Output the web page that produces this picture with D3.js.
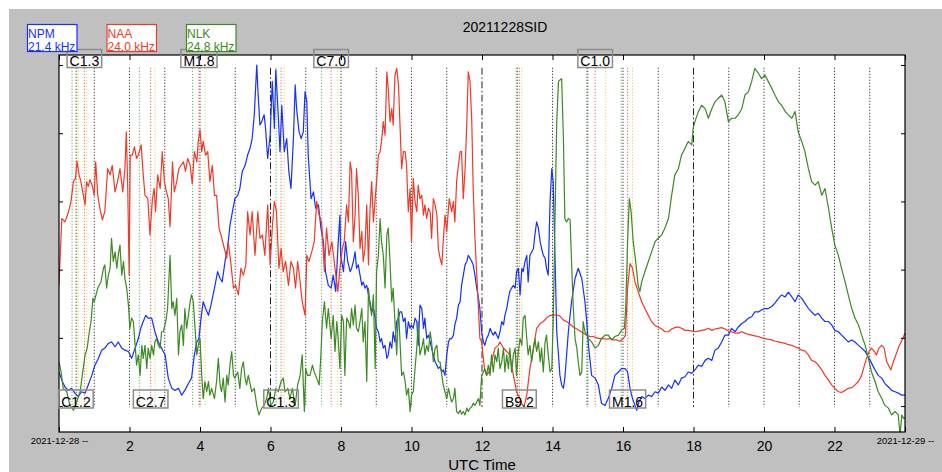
<!DOCTYPE html>
<html>
<head>
<meta charset="utf-8">
<script src="https://cdn.jsdelivr.net/npm/d3@7"></script>
<style>
  html, body { margin: 0; padding: 0; background: #fff; }
  svg { display: block; font-family: "Liberation Sans", Arial, Helvetica, sans-serif; }
</style>
</head>
<body>
<svg id="chart" width="942" height="472"></svg>
<script>
// hours UTC, relative amplitude (dB)
const npmSeries = [
  [0.00,5.0],[0.08,3.8],[0.17,2.8],[0.26,2.3],[0.36,2.6],[0.45,1.9],[0.55,1.4],[0.64,2.1],[0.74,1.9],[0.83,3.1],
  [0.93,4.5],[1.02,6.0],[1.12,7.0],[1.21,8.2],[1.30,8.5],[1.40,9.2],[1.49,9.4],[1.59,8.7],[1.68,9.4],[1.78,8.5],
  [1.87,8.2],[1.97,8.0],[2.06,7.0],[2.16,8.5],[2.25,9.9],[2.33,11.6],[2.39,12.4],[2.46,13.3],[2.53,12.9],[2.63,12.9],
  [2.72,10.9],[2.82,9.4],[2.91,8.5],[3.01,7.5],[3.05,6.0],[3.10,4.1],[3.20,2.6],[3.29,2.3],[3.39,2.6],[3.48,1.6],
  [3.57,2.3],[3.67,3.3],[3.76,4.1],[3.84,7.5],[3.91,9.4],[3.97,9.9],[4.03,12.9],[4.09,15.3],[4.16,14.3],[4.24,13.3],
  [4.31,14.8],[4.41,17.3],[4.50,19.7],[4.57,18.7],[4.63,18.2],[4.71,21.2],[4.78,23.1],[4.85,26.5],[4.92,28.5],[4.99,30.4],
  [5.07,30.9],[5.13,31.9],[5.20,34.4],[5.28,35.3],[5.35,36.8],[5.42,37.8],[5.48,39.2],[5.54,42.7],[5.61,50.0],[5.65,45.6],
  [5.70,41.2],[5.75,41.7],[5.82,42.7],[5.86,40.7],[5.92,36.3],[5.99,39.7],[6.05,47.6],[6.11,40.7],[6.15,49.3],[6.20,44.6],
  [6.27,37.3],[6.32,44.1],[6.39,37.3],[6.46,39.2],[6.52,34.4],[6.58,31.9],[6.65,39.2],[6.70,47.1],[6.74,43.6],[6.81,40.2],
  [6.87,39.2],[6.93,40.2],[6.98,46.1],[7.03,44.6],[7.07,36.8],[7.15,30.4],[7.22,31.4],[7.28,29.0],[7.36,29.5],[7.43,26.1],
  [7.50,24.1],[7.56,19.7],[7.64,17.7],[7.72,17.3],[7.78,19.2],[7.85,16.8],[7.91,23.1],[7.97,28.0],[7.99,22.1],[8.07,19.7],
  [8.13,24.1],[8.19,21.2],[8.26,19.7],[8.30,20.2],[8.35,21.2],[8.40,22.6],[8.44,20.2],[8.49,20.7],[8.54,19.2],[8.59,17.7],
  [8.63,18.2],[8.68,17.3],[8.73,17.7],[8.78,16.3],[8.82,15.3],[8.87,13.8],[8.92,14.3],[8.97,12.9],[9.01,11.4],[9.06,10.9],
  [9.11,9.4],[9.15,9.9],[9.20,8.5],[9.25,8.9],[9.30,7.0],[9.34,7.5],[9.39,9.4],[9.44,8.5],[9.48,10.9],[9.53,9.4],
  [9.58,12.4],[9.63,12.9],[9.67,13.8],[9.72,13.8],[9.77,12.4],[9.82,12.9],[9.86,9.9],[9.91,12.4],[9.96,11.4],[10.00,11.9],
  [10.05,11.4],[10.10,12.9],[10.15,12.4],[10.19,8.9],[10.24,14.8],[10.29,14.3],[10.34,11.4],[10.38,12.9],[10.43,9.9],[10.48,10.4],
  [10.53,9.4],[10.57,8.5],[10.62,7.5],[10.67,6.5],[10.72,6.0],[10.76,5.5],[10.81,5.8],[10.86,5.0],[10.90,5.3],[10.95,4.5],
  [11.00,7.5],[11.05,9.4],[11.09,9.9],[11.14,9.9],[11.19,10.4],[11.23,11.9],[11.28,12.9],[11.33,14.8],[11.38,15.3],[11.42,17.7],
  [11.47,19.2],[11.52,20.7],[11.57,21.2],[11.61,22.1],[11.66,21.7],[11.71,21.2],[11.75,20.7],[11.80,19.2],[11.85,17.3],[11.90,15.8],
  [11.94,14.3],[11.99,10.9],[12.04,9.4],[12.08,8.9],[12.13,9.9],[12.18,10.4],[12.23,11.4],[12.27,10.9],[12.32,10.4],[12.37,10.9],
  [12.42,10.4],[12.46,9.9],[12.51,10.9],[12.56,12.4],[12.61,11.9],[12.65,13.3],[12.70,14.3],[12.75,15.8],[12.79,16.8],[12.84,17.3],
  [12.89,17.7],[12.94,17.3],[12.98,19.7],[13.03,20.2],[13.08,16.3],[13.13,20.2],[13.17,19.7],[13.22,21.2],[13.27,22.1],[13.31,18.2],
  [13.36,22.1],[13.41,22.6],[13.46,23.1],[13.50,25.1],[13.55,27.0],[13.60,26.1],[13.65,24.1],[13.69,23.1],[13.74,22.1],[13.79,21.7],
  [13.83,20.2],[13.88,19.2],[13.93,30.0],[13.98,34.8],[14.02,32.9],[14.07,22.1],[14.12,10.9],[14.17,7.5],[14.21,4.5],[14.26,3.1],
  [14.31,2.6],[14.35,4.1],[14.40,7.5],[14.45,10.9],[14.54,15.3],[14.64,18.7],[14.73,20.2],[14.83,18.7],[14.92,15.3],[14.97,12.4],
  [15.02,8.9],[15.11,4.5],[15.21,4.1],[15.30,3.1],[15.39,0.4],[15.49,0.1],[15.58,1.1],[15.68,2.6],[15.77,4.5],[15.87,5.0],
  [15.96,5.5],[16.06,5.5],[16.13,5.0],[16.20,2.6],[16.27,1.1],[16.34,0.1],[16.39,-0.6],[16.45,0.6],[16.53,1.4],[16.62,1.1],
  [16.72,1.6],[16.81,1.4],[16.91,2.1],[17.00,1.9],[17.10,2.8],[17.19,2.3],[17.29,3.1],[17.38,2.6],[17.47,3.8],[17.57,3.1],
  [17.66,4.1],[17.76,4.3],[17.85,5.0],[17.95,4.8],[18.04,5.3],[18.14,6.0],[18.23,5.8],[18.33,6.7],[18.42,7.0],[18.52,6.7],
  [18.61,8.2],[18.70,8.5],[18.80,9.4],[18.89,10.4],[18.99,10.4],[19.08,11.4],[19.18,10.9],[19.27,11.6],[19.37,12.1],[19.46,12.4],
  [19.56,12.9],[19.65,13.1],[19.74,13.8],[19.84,13.8],[19.93,14.1],[20.03,14.3],[20.12,14.3],[20.22,14.6],[20.31,15.1],[20.41,15.8],
  [20.50,16.3],[20.60,16.0],[20.69,16.7],[20.79,16.0],[20.88,15.3],[20.97,16.3],[21.07,15.8],[21.16,15.1],[21.26,14.3],[21.35,13.8],
  [21.45,13.3],[21.54,13.6],[21.64,12.9],[21.73,12.4],[21.83,12.4],[21.92,11.9],[22.01,11.1],[22.11,10.9],[22.20,10.4],[22.30,9.9],
  [22.39,9.4],[22.49,9.7],[22.58,9.4],[22.68,8.9],[22.77,8.5],[22.87,8.0],[22.96,7.2],[23.05,6.3],[23.15,5.3],[23.24,4.5],
  [23.34,4.1],[23.43,3.3],[23.53,2.8],[23.62,2.3],[23.72,2.1],[23.81,1.9],[23.91,1.6],[24.00,1.6]
];

const naaSeries = [
  [0.00,17.7],[0.08,27.5],[0.17,27.0],[0.26,28.3],[0.34,30.0],[0.41,32.9],[0.47,33.4],[0.51,35.9],[0.57,33.9],[0.62,32.9],
  [0.69,30.9],[0.74,29.5],[0.78,32.9],[0.83,32.2],[0.88,33.2],[0.95,32.2],[1.00,30.9],[1.04,35.8],[1.10,30.9],[1.16,29.0],
  [1.23,27.3],[1.30,28.5],[1.38,34.8],[1.45,33.9],[1.51,35.3],[1.59,31.4],[1.66,32.9],[1.73,34.8],[1.81,31.4],[1.87,34.8],
  [1.91,40.2],[1.95,31.9],[1.99,19.2],[2.02,36.8],[2.08,36.8],[2.14,38.0],[2.20,36.3],[2.25,36.8],[2.33,38.3],[2.39,33.9],
  [2.44,30.9],[2.52,30.4],[2.58,25.1],[2.65,30.4],[2.70,31.9],[2.74,28.5],[2.80,33.9],[2.87,31.9],[2.93,37.3],[2.99,32.9],
  [3.05,31.4],[3.10,30.4],[3.15,26.3],[3.22,35.8],[3.27,31.4],[3.34,32.9],[3.40,34.8],[3.46,35.3],[3.53,35.8],[3.59,34.4],
  [3.65,36.3],[3.72,35.3],[3.78,32.6],[3.84,37.3],[3.91,35.8],[3.95,38.8],[4.00,40.5],[4.05,37.3],[4.09,38.8],[4.16,36.8],
  [4.22,37.3],[4.28,32.9],[4.35,35.3],[4.41,30.9],[4.47,30.9],[4.54,26.1],[4.61,24.8],[4.69,23.1],[4.76,21.7],[4.80,24.1],
  [4.88,20.7],[4.95,17.3],[5.01,17.7],[5.09,16.3],[5.16,20.2],[5.23,19.2],[5.30,20.7],[5.35,28.5],[5.42,25.1],[5.48,28.5],
  [5.56,22.1],[5.64,28.5],[5.70,24.6],[5.77,25.1],[5.84,22.1],[5.92,29.5],[5.99,20.7],[6.05,26.1],[6.11,30.0],[6.17,28.5],
  [6.24,20.2],[6.30,23.1],[6.36,19.7],[6.43,21.2],[6.51,17.7],[6.58,21.2],[6.65,20.2],[6.71,17.3],[6.77,21.2],[6.84,18.2],
  [6.90,15.3],[6.98,13.3],[7.03,22.1],[7.09,21.2],[7.17,22.6],[7.24,24.1],[7.31,30.0],[7.38,28.0],[7.45,27.0],[7.53,19.7],
  [7.59,26.1],[7.66,22.1],[7.74,24.1],[7.83,20.2],[7.91,16.8],[7.97,20.2],[8.04,23.1],[8.09,24.1],[8.16,29.5],[8.21,27.0],
  [8.26,35.8],[8.30,34.4],[8.35,24.1],[8.40,28.0],[8.44,34.8],[8.49,30.9],[8.54,23.1],[8.59,25.6],[8.63,21.2],[8.68,23.1],
  [8.73,29.5],[8.78,20.7],[8.82,28.5],[8.87,32.9],[8.92,27.0],[8.97,30.4],[9.01,32.9],[9.06,36.8],[9.11,37.3],[9.15,38.8],
  [9.20,41.7],[9.25,39.7],[9.30,49.0],[9.34,46.6],[9.39,41.7],[9.44,43.6],[9.48,41.2],[9.53,48.5],[9.58,49.5],[9.63,47.1],
  [9.67,41.7],[9.72,34.8],[9.77,37.3],[9.82,37.3],[9.86,35.3],[9.91,28.5],[9.96,31.9],[10.00,24.1],[10.05,33.4],[10.10,30.0],
  [10.15,28.5],[10.19,32.4],[10.24,30.4],[10.29,30.9],[10.34,28.0],[10.38,29.5],[10.43,27.5],[10.48,29.0],[10.53,28.5],[10.57,24.6],
  [10.62,30.4],[10.67,29.5],[10.72,28.0],[10.76,23.1],[10.81,21.7],[10.86,20.7],[10.90,24.1],[10.95,28.0],[11.00,25.6],[11.07,30.4],
  [11.14,28.5],[11.19,30.0],[11.23,27.0],[11.28,32.9],[11.33,35.3],[11.38,37.3],[11.42,37.3],[11.47,30.4],[11.52,34.8],[11.57,41.7],
  [11.61,49.0],[11.66,47.6],[11.71,41.7],[11.75,31.9],[11.80,24.6],[11.88,16.3],[11.94,9.9],[11.99,9.4],[12.07,5.5],[12.13,4.5],
  [12.20,5.0],[12.27,6.5],[12.37,8.5],[12.46,8.9],[12.51,9.4],[12.61,8.5],[12.70,8.0],[12.79,7.5],[12.89,4.5],[12.98,2.1],
  [13.08,1.1],[13.15,0.1],[13.20,0.1],[13.27,1.6],[13.36,5.5],[13.46,8.5],[13.55,11.4],[13.65,12.1],[13.74,12.4],[13.83,12.9],
  [13.93,13.3],[14.02,13.3],[14.12,13.4],[14.21,13.2],[14.31,12.6],[14.40,12.4],[14.50,12.0],[14.59,11.6],[14.69,11.3],[14.78,11.0],
  [14.87,10.7],[14.97,10.4],[15.06,10.2],[15.16,10.2],[15.25,10.0],[15.35,9.9],[15.44,9.9],[15.54,9.8],[15.63,9.9],[15.73,9.7],
  [15.82,9.7],[15.91,9.5],[16.01,9.9],[16.07,10.4],[16.13,17.3],[16.20,20.9],[16.27,20.2],[16.34,18.2],[16.43,16.8],[16.53,15.3],
  [16.62,14.3],[16.72,13.3],[16.81,12.4],[16.91,11.8],[17.00,11.6],[17.10,11.3],[17.19,10.9],[17.29,10.9],[17.38,11.3],[17.47,11.5],
  [17.57,11.6],[17.66,11.4],[17.76,11.1],[17.85,11.1],[17.95,11.0],[18.04,10.9],[18.14,11.0],[18.23,11.1],[18.33,11.2],[18.42,11.4],
  [18.52,11.1],[18.61,11.3],[18.70,11.4],[18.80,11.5],[18.89,11.3],[18.99,11.0],[19.08,10.9],[19.18,10.7],[19.27,10.7],[19.37,10.9],
  [19.46,10.7],[19.56,10.5],[19.65,10.4],[19.74,10.3],[19.84,10.2],[19.93,10.0],[20.03,9.9],[20.12,9.8],[20.22,9.7],[20.31,9.5],
  [20.41,9.4],[20.50,9.3],[20.60,9.2],[20.69,9.0],[20.79,8.9],[20.88,8.7],[20.97,8.5],[21.07,8.2],[21.16,8.1],[21.26,7.5],
  [21.35,6.7],[21.45,6.5],[21.54,6.0],[21.64,5.3],[21.73,4.5],[21.83,3.8],[21.92,3.1],[22.01,2.6],[22.11,2.1],[22.20,2.0],
  [22.30,2.3],[22.39,2.6],[22.49,2.7],[22.58,3.1],[22.68,3.6],[22.77,4.5],[22.85,6.0],[22.91,7.0],[22.98,8.0],[23.05,8.5],
  [23.13,8.0],[23.19,7.5],[23.26,8.5],[23.34,8.9],[23.41,8.5],[23.48,6.5],[23.55,5.8],[23.60,5.3],[23.67,6.5],[23.74,7.5],
  [23.81,8.5],[23.89,9.4],[23.96,10.2],[24.00,10.7]
];

const nlkSeries = [
  [0.00,6.5],[0.06,5.0],[0.12,2.6],[0.22,2.1],[0.31,0.1],[0.41,-0.6],[0.50,0.6],[0.60,2.1],[0.66,4.5],[0.74,7.5],
  [0.80,8.5],[0.86,10.9],[0.91,12.4],[0.96,15.8],[1.00,15.3],[1.05,16.3],[1.10,17.3],[1.14,17.7],[1.19,18.2],[1.26,20.2],
  [1.30,20.7],[1.35,17.3],[1.40,19.2],[1.45,20.2],[1.49,24.6],[1.54,21.2],[1.59,22.6],[1.64,20.2],[1.68,22.1],[1.73,23.6],
  [1.78,19.2],[1.83,21.2],[1.87,18.7],[1.92,17.3],[1.97,14.8],[2.01,11.4],[2.06,12.9],[2.11,12.4],[2.16,8.9],[2.20,6.0],
  [2.25,7.5],[2.30,4.5],[2.35,8.9],[2.39,7.0],[2.44,8.9],[2.49,5.5],[2.53,8.5],[2.58,7.0],[2.63,8.9],[2.68,7.5],
  [2.72,9.4],[2.77,9.9],[2.82,8.9],[2.87,8.5],[2.91,10.9],[2.96,10.9],[3.03,12.4],[3.08,14.3],[3.15,22.1],[3.20,14.3],
  [3.24,15.3],[3.29,13.3],[3.34,15.8],[3.39,7.5],[3.43,10.9],[3.48,11.9],[3.53,8.9],[3.57,14.3],[3.62,11.4],[3.67,13.3],
  [3.72,15.3],[3.76,16.3],[3.81,15.3],[3.86,11.4],[3.91,7.5],[3.95,8.9],[4.00,9.9],[4.05,4.5],[4.09,1.1],[4.14,3.6],
  [4.19,2.1],[4.24,3.6],[4.28,1.6],[4.33,2.6],[4.41,1.1],[4.47,3.6],[4.52,7.0],[4.57,3.1],[4.61,2.1],[4.66,4.1],
  [4.71,0.6],[4.76,4.5],[4.80,3.1],[4.85,6.0],[4.90,8.0],[4.95,4.5],[4.99,4.1],[5.07,5.0],[5.13,2.6],[5.18,5.5],
  [5.23,6.5],[5.28,4.1],[5.32,3.1],[5.37,4.5],[5.47,2.1],[5.54,2.6],[5.61,0.1],[5.67,-1.3],[5.75,-0.3],[5.82,0.1],
  [5.89,1.1],[5.94,2.6],[6.01,0.1],[6.08,0.6],[6.15,2.6],[6.22,2.1],[6.30,3.6],[6.36,4.1],[6.41,2.1],[6.49,2.6],
  [6.55,1.1],[6.62,2.6],[6.70,0.1],[6.77,3.1],[6.84,4.5],[6.90,7.5],[6.96,-0.8],[7.00,5.5],[7.05,4.5],[7.12,4.5],
  [7.19,6.0],[7.24,5.0],[7.31,4.1],[7.38,3.1],[7.43,7.5],[7.47,12.4],[7.53,15.3],[7.59,11.4],[7.64,14.3],[7.72,9.9],
  [7.78,13.3],[7.83,8.0],[7.88,12.4],[7.92,9.9],[7.97,5.5],[8.02,13.3],[8.07,12.4],[8.11,4.5],[8.16,12.9],[8.21,12.4],
  [8.26,11.4],[8.30,14.3],[8.35,11.9],[8.40,14.8],[8.44,11.4],[8.49,10.9],[8.54,12.4],[8.59,14.3],[8.63,9.4],[8.68,12.4],
  [8.73,3.6],[8.78,17.3],[8.82,14.8],[8.87,13.3],[8.92,16.3],[8.97,5.5],[9.01,19.7],[9.06,22.1],[9.11,27.5],[9.15,24.1],
  [9.20,22.1],[9.25,17.3],[9.30,25.1],[9.34,26.1],[9.39,21.2],[9.44,15.3],[9.48,17.3],[9.53,12.4],[9.58,7.5],[9.63,14.3],
  [9.67,9.9],[9.72,4.5],[9.77,5.0],[9.82,3.6],[9.86,1.6],[9.91,2.6],[9.96,-0.8],[10.00,1.6],[10.05,2.1],[10.10,5.5],
  [10.15,8.5],[10.19,12.4],[10.24,7.5],[10.29,8.5],[10.34,9.9],[10.38,7.5],[10.43,8.9],[10.48,8.0],[10.53,10.9],[10.57,9.4],
  [10.62,6.5],[10.67,8.5],[10.72,8.9],[10.76,6.5],[10.81,6.5],[10.86,4.5],[10.90,3.1],[10.95,2.1],[11.00,1.1],[11.05,2.6],
  [11.09,1.6],[11.14,0.6],[11.19,1.1],[11.23,2.6],[11.28,-0.8],[11.33,-1.1],[11.38,-0.6],[11.42,-1.2],[11.47,-0.8],[11.52,-1.3],
  [11.57,-0.3],[11.61,-0.8],[11.66,-0.3],[11.71,-0.1],[11.75,0.4],[11.80,0.1],[11.85,0.6],[11.90,1.1],[11.94,0.1],[11.99,4.5],
  [12.04,5.0],[12.08,5.5],[12.13,4.5],[12.18,6.0],[12.23,4.5],[12.27,7.5],[12.32,5.0],[12.37,7.5],[12.42,6.5],[12.46,8.5],
  [12.51,5.5],[12.56,6.5],[12.61,8.5],[12.65,5.0],[12.70,7.5],[12.75,5.5],[12.79,8.5],[12.84,5.0],[12.89,7.5],[12.94,8.5],
  [12.98,4.5],[13.03,8.0],[13.08,9.9],[13.13,8.9],[13.17,12.9],[13.22,13.3],[13.27,9.9],[13.31,7.5],[13.36,8.9],[13.41,6.5],
  [13.46,8.5],[13.50,9.9],[13.55,8.0],[13.60,9.4],[13.65,6.5],[13.69,8.5],[13.74,5.0],[13.79,9.4],[13.83,10.4],[13.88,7.5],
  [13.93,5.0],[13.98,5.5],[14.02,12.4],[14.07,27.0],[14.12,41.7],[14.17,47.6],[14.21,47.8],[14.26,48.0],[14.31,39.2],[14.35,27.5],
  [14.40,27.0],[14.45,27.5],[14.50,27.3],[14.54,21.2],[14.59,14.3],[14.64,9.9],[14.69,8.5],[14.73,6.5],[14.78,4.5],[14.83,5.0],
  [14.87,12.4],[14.92,10.9],[14.97,10.4],[15.02,9.9],[15.11,9.4],[15.21,8.5],[15.30,8.9],[15.39,9.9],[15.49,10.4],[15.58,10.4],
  [15.68,9.7],[15.77,10.2],[15.87,10.4],[15.96,11.1],[16.04,11.4],[16.08,14.8],[16.13,24.1],[16.18,30.4],[16.23,28.5],[16.29,24.1],
  [16.36,21.2],[16.43,17.7],[16.48,16.8],[16.53,18.2],[16.62,19.7],[16.72,21.2],[16.81,22.6],[16.91,24.1],[17.00,24.6],[17.10,25.1],
  [17.19,26.1],[17.29,27.5],[17.38,30.9],[17.47,33.9],[17.57,34.8],[17.66,36.8],[17.76,37.8],[17.85,38.8],[17.95,38.3],[17.99,40.7],
  [18.04,41.7],[18.14,43.2],[18.23,44.1],[18.33,43.6],[18.42,42.2],[18.52,43.6],[18.61,44.6],[18.70,45.1],[18.80,45.6],[18.89,44.6],
  [18.99,41.7],[19.08,42.2],[19.18,42.2],[19.27,42.7],[19.37,43.6],[19.46,45.6],[19.56,46.1],[19.65,47.6],[19.74,49.5],[19.84,48.8],
  [19.93,48.0],[20.03,48.5],[20.12,47.6],[20.22,46.6],[20.31,45.6],[20.41,44.6],[20.50,44.1],[20.60,43.2],[20.69,42.7],[20.79,42.2],
  [20.88,43.2],[20.97,40.2],[21.07,38.8],[21.16,37.3],[21.26,34.8],[21.35,32.9],[21.45,32.4],[21.54,32.9],[21.64,30.9],[21.73,31.9],
  [21.83,29.0],[21.92,26.1],[22.01,23.6],[22.11,22.1],[22.20,20.2],[22.30,18.2],[22.39,16.3],[22.49,14.3],[22.58,12.9],[22.68,11.9],
  [22.77,10.4],[22.87,8.9],[22.96,7.0],[23.05,5.0],[23.15,3.6],[23.24,2.1],[23.34,1.1],[23.43,0.1],[23.53,-0.3],[23.62,-1.3],
  [23.72,-0.8],[23.81,-1.3],[23.86,-4.3],[23.91,-1.3],[23.96,-1.8],[24.00,-1.8]
];

const stations = [
  { name: "NPM", freq: "21.4 kHz", color: "#1530ff", data: npmSeries },
  { name: "NAA", freq: "24.0 kHz", color: "#f03a28", data: naaSeries },
  { name: "NLK", freq: "24.8 kHz", color: "#3b8a22", data: nlkSeries }
];

// flare start / peak / end in hours, label above or below
const flares = [
  { label: "C1.2", start: 0.37, peak: 0.48, end: 0.55, pos: "bottom" },
  { label: "C1.3", start: 0.50, peak: 0.72, end: 0.79, pos: "top" },
  { label: "C2.7", start: 2.28, peak: 2.60, end: 2.72, pos: "bottom" },
  { label: "M1.8", start: 3.79, peak: 3.97, end: 4.14, pos: "top" },
  { label: "C1.3", start: 6.16, peak: 6.30, end: 6.39, pos: "bottom" },
  { label: "C7.0", start: 7.45, peak: 7.72, end: 7.91, pos: "top" },
  { label: "B9.2", start: 12.97, peak: 13.06, end: 13.13, pos: "bottom" },
  { label: "C1.0", start: 14.97, peak: 15.21, end: 15.51, pos: "top" },
  { label: "M1.6", start: 15.95, peak: 16.13, end: 16.27, pos: "bottom" }
];

const hourMarks = [1, 2, 3, 4, 5, 7, 8, 9, 10, 11, 13, 14, 15, 16, 17, 19, 20, 21, 22, 23];
const terminatorMarks = [6, 12, 18];
const xTicks = [0, 2, 4, 6, 8, 10, 12, 14, 16, 18, 20, 22, 24];
const yTicks = [0, 10, 20, 30, 40, 50];
const startDate = "2021-12-28 --";
const endDate = "2021-12-29 --";

const svg = d3.select("#chart");
const plotL = 59, plotR = 905, plotT = 55, plotB = 432;

const x = d3.scaleLinear().domain([0, 24]).range([plotL, plotR]);
const y = d3.scaleLinear().domain([-3.8, 51.47]).range([plotB, plotT]);

// background
svg.append("rect").attr("x", 9).attr("y", 9).attr("width", 933).attr("height", 463).attr("fill", "#c0c0c0");
svg.append("rect").attr("x", plotL).attr("y", plotT).attr("width", plotR - plotL).attr("height", plotB - plotT).attr("fill", "#fff");

svg.append("defs").append("clipPath").attr("id", "plot-clip")
  .append("rect").attr("x", plotL).attr("y", plotT).attr("width", plotR - plotL).attr("height", plotB - plotT);

const markTop = y(49.6), markBottom = y(-0.15);

// hourly dotted marks
svg.append("g").selectAll("line").data(hourMarks).enter().append("line")
  .attr("x1", d => x(d)).attr("x2", d => x(d))
  .attr("y1", markTop).attr("y2", markBottom)
  .attr("stroke", "#111").attr("stroke-width", 1).attr("stroke-dasharray", "1,2");

svg.append("g").selectAll("line").data(terminatorMarks).enter().append("line")
  .attr("x1", d => x(d)).attr("x2", d => x(d))
  .attr("y1", markTop).attr("y2", markBottom)
  .attr("stroke", "#222").attr("stroke-width", 1).attr("stroke-dasharray", "7,2.5,1.5,2.5");

// flare start/peak/end marks
const flareMarks = [];
flares.forEach(f => {
  flareMarks.push({ t: f.start, color: "#3fa23f" });
  flareMarks.push({ t: f.peak, color: "#f23c3c" });
  flareMarks.push({ t: f.end, color: "#d9c93c" });
});
svg.append("g").selectAll("line").data(flareMarks).enter().append("line")
  .attr("x1", d => x(d.t)).attr("x2", d => x(d.t))
  .attr("y1", markTop).attr("y2", markBottom)
  .attr("stroke", d => d.color).attr("stroke-width", 1).attr("stroke-dasharray", "1,2");

// station curves
const line = d3.line().x(d => x(d[0])).y(d => y(d[1]));
svg.append("g").attr("clip-path", "url(#plot-clip)")
  .selectAll("path").data(stations).enter().append("path")
  .attr("d", d => line(d.data))
  .attr("fill", "none")
  .attr("stroke", d => d.color)
  .attr("stroke-width", 1.2)
  .attr("stroke-linejoin", "round");

// axes, ticks pointing inward
const xAxisBottom = d3.axisBottom(x).tickValues(xTicks).tickSize(-5).tickPadding(9)
  .tickFormat(d => (d === 0 ? startDate : d === 24 ? endDate : d));
const gx = svg.append("g").attr("transform", `translate(0,${plotB})`).call(xAxisBottom);
gx.selectAll("text").attr("fill", "#000").style("font-size", "14px");
gx.selectAll(".tick").filter(d => d === 0 || d === 24).select("text")
  .style("font-size", "9.5px").attr("y", 5);

svg.append("g").attr("transform", `translate(0,${plotT})`)
  .call(d3.axisTop(x).tickValues(xTicks).tickSize(-5).tickFormat(""));
svg.append("g").attr("transform", `translate(${plotL},0)`)
  .call(d3.axisLeft(y).tickValues(yTicks).tickSize(-4).tickFormat(""));
svg.append("g").attr("transform", `translate(${plotR},0)`)
  .call(d3.axisRight(y).tickValues(yTicks).tickSize(-4).tickFormat(""));
svg.selectAll(".domain").remove();
svg.selectAll(".tick line").attr("stroke", "#000");

svg.append("rect").attr("x", plotL).attr("y", plotT).attr("width", plotR - plotL).attr("height", plotB - plotT)
  .attr("fill", "none").attr("stroke", "#000").attr("stroke-width", 1.2);

// flare labels
const labels = svg.append("g").selectAll("g").data(flares).enter().append("g")
  .attr("transform", d => `translate(${x(d.peak)},${d.pos === "top" ? plotT - 5.5 : plotB - 42})`);
labels.append("text")
  .attr("text-anchor", "middle").attr("x", 0).attr("y", 16.5)
  .style("font-size", "14px").attr("fill", "#000")
  .text(d => d.label);
labels.each(function () {
  const g = d3.select(this);
  const w = g.select("text").node().getComputedTextLength() + 5;
  g.insert("rect", "text")
    .attr("x", -w / 2).attr("y", 0).attr("width", w).attr("height", 18)
    .attr("fill", "none").attr("stroke", "#8c8c8c").attr("stroke-width", 1.5);
});

// legend boxes
const legend = svg.append("g").selectAll("g").data(stations).enter().append("g")
  .attr("transform", (d, i) => `translate(${27.5 + i * 79.5},24.5)`);
legend.append("rect")
  .attr("width", 49.5).attr("height", 27)
  .attr("fill", "#fff").attr("stroke", d => d.color).attr("stroke-width", 1.2);
legend.append("text").attr("x", 0.5).attr("y", 13.5)
  .style("font-size", "12px").attr("fill", d => d.color).text(d => d.name);
legend.append("text").attr("x", 0.5).attr("y", 26)
  .style("font-size", "12px").attr("fill", d => d.color).text(d => d.freq);

svg.append("text").attr("x", 505).attr("y", 32).attr("text-anchor", "middle")
  .style("font-size", "14px").text("20211228SID");

svg.append("text").attr("x", (plotL + plotR) / 2).attr("y", 470).attr("text-anchor", "middle")
  .style("font-size", "15px").text("UTC Time");
</script>
</body>
</html>
